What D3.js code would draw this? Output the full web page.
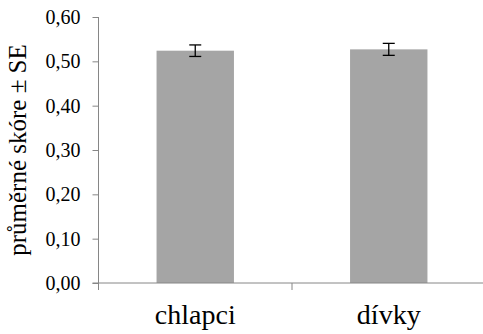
<!DOCTYPE html>
<html>
<head>
<meta charset="utf-8">
<script src="https://cdn.jsdelivr.net/npm/d3@7"></script>
<style>
html,body{margin:0;padding:0;background:#fff;}
svg{display:block;}
</style>
</head>
<body>
<svg id="chart" width="483" height="334"></svg>
<script>
const categories = ["chlapci", "dívky"];
const means = [0.524, 0.527];
const se = [0.013, 0.0135];
const yTicks = [0, 0.1, 0.2, 0.3, 0.4, 0.5, 0.6];
const yTitle = "průměrné skóre ± SE";

(function () {
const FONT = '"Liberation Serif"';
const svg = d3.select("#chart").style("font-family", FONT);
const mLeft = 98.5, mTop = 17, mBottom = 283, bandW = 193.5;
const x = d3.scaleBand().domain(categories).range([mLeft, mLeft + bandW * categories.length]).paddingInner(0.6).paddingOuter(0.3);
const y = d3.scaleLinear().domain([0, 0.6]).range([mBottom, mTop]);
const axisColor = "#868686";
const fmt = d => d3.format(".2f")(d).replace(".", ",");

// bars
svg.selectAll("rect.bar").data(categories).join("rect")
  .attr("class", "bar")
  .attr("x", d => x(d)).attr("width", x.bandwidth())
  .attr("y", (d, i) => y(means[i])).attr("height", (d, i) => mBottom - y(means[i]))
  .attr("fill", "#a5a5a5");

// y axis
const yAxis = svg.append("g").attr("transform", `translate(${mLeft},0)`)
  .call(d3.axisLeft(y).tickValues(yTicks).tickFormat(fmt).tickSize(6).tickPadding(12));
yAxis.attr("font-family", null).attr("font-size", null);
yAxis.select(".domain").attr("stroke", axisColor).attr("d", `M0,${mTop}V${mBottom}`);
yAxis.selectAll(".tick line").attr("stroke", axisColor);
yAxis.selectAll(".tick text").style("font-family", FONT).style("font-size", "20px").attr("fill", "#000");

// x axis
const xAxis = svg.append("g").attr("transform", `translate(0,${mBottom})`)
  .call(d3.axisBottom(x).tickSize(0).tickPadding(21));
xAxis.attr("font-family", null).attr("font-size", null);
xAxis.select(".domain").attr("stroke", axisColor).attr("d", `M${mLeft - 6},0H${mLeft + bandW * categories.length}`);
xAxis.selectAll(".tick text").style("font-family", FONT).style("font-size", "28px").attr("fill", "#000").attr("dy", "0.71em");
// category boundary ticks
const bounds = d3.range(categories.length + 1).map(i => mLeft + i * bandW);
svg.append("g").selectAll("line").data(bounds).join("line")
  .attr("x1", d => d).attr("x2", d => d).attr("y1", mBottom).attr("y2", mBottom + 7)
  .attr("stroke", axisColor);

// error bars
const eb = svg.append("g").attr("stroke", "#000").attr("stroke-width", 1.3);
categories.forEach((c, i) => {
  const cx = x(c) + x.bandwidth() / 2;
  const y1 = y(means[i] + se[i]), y2 = y(means[i] - se[i]);
  eb.append("line").attr("x1", cx).attr("x2", cx).attr("y1", y1).attr("y2", y2);
  eb.append("line").attr("x1", cx - 6).attr("x2", cx + 6).attr("y1", y1).attr("y2", y1);
  eb.append("line").attr("x1", cx - 6).attr("x2", cx + 6).attr("y1", y2).attr("y2", y2);
});

// y title
svg.append("text")
  .attr("transform", `translate(26,${(mTop + mBottom) / 2}) rotate(-90)`)
  .attr("text-anchor", "middle")
  .style("font-family", FONT)
  .style("font-size", "25px")
  .attr("fill", "#000")
  .text(yTitle);
})();
</script>
</body>
</html>
